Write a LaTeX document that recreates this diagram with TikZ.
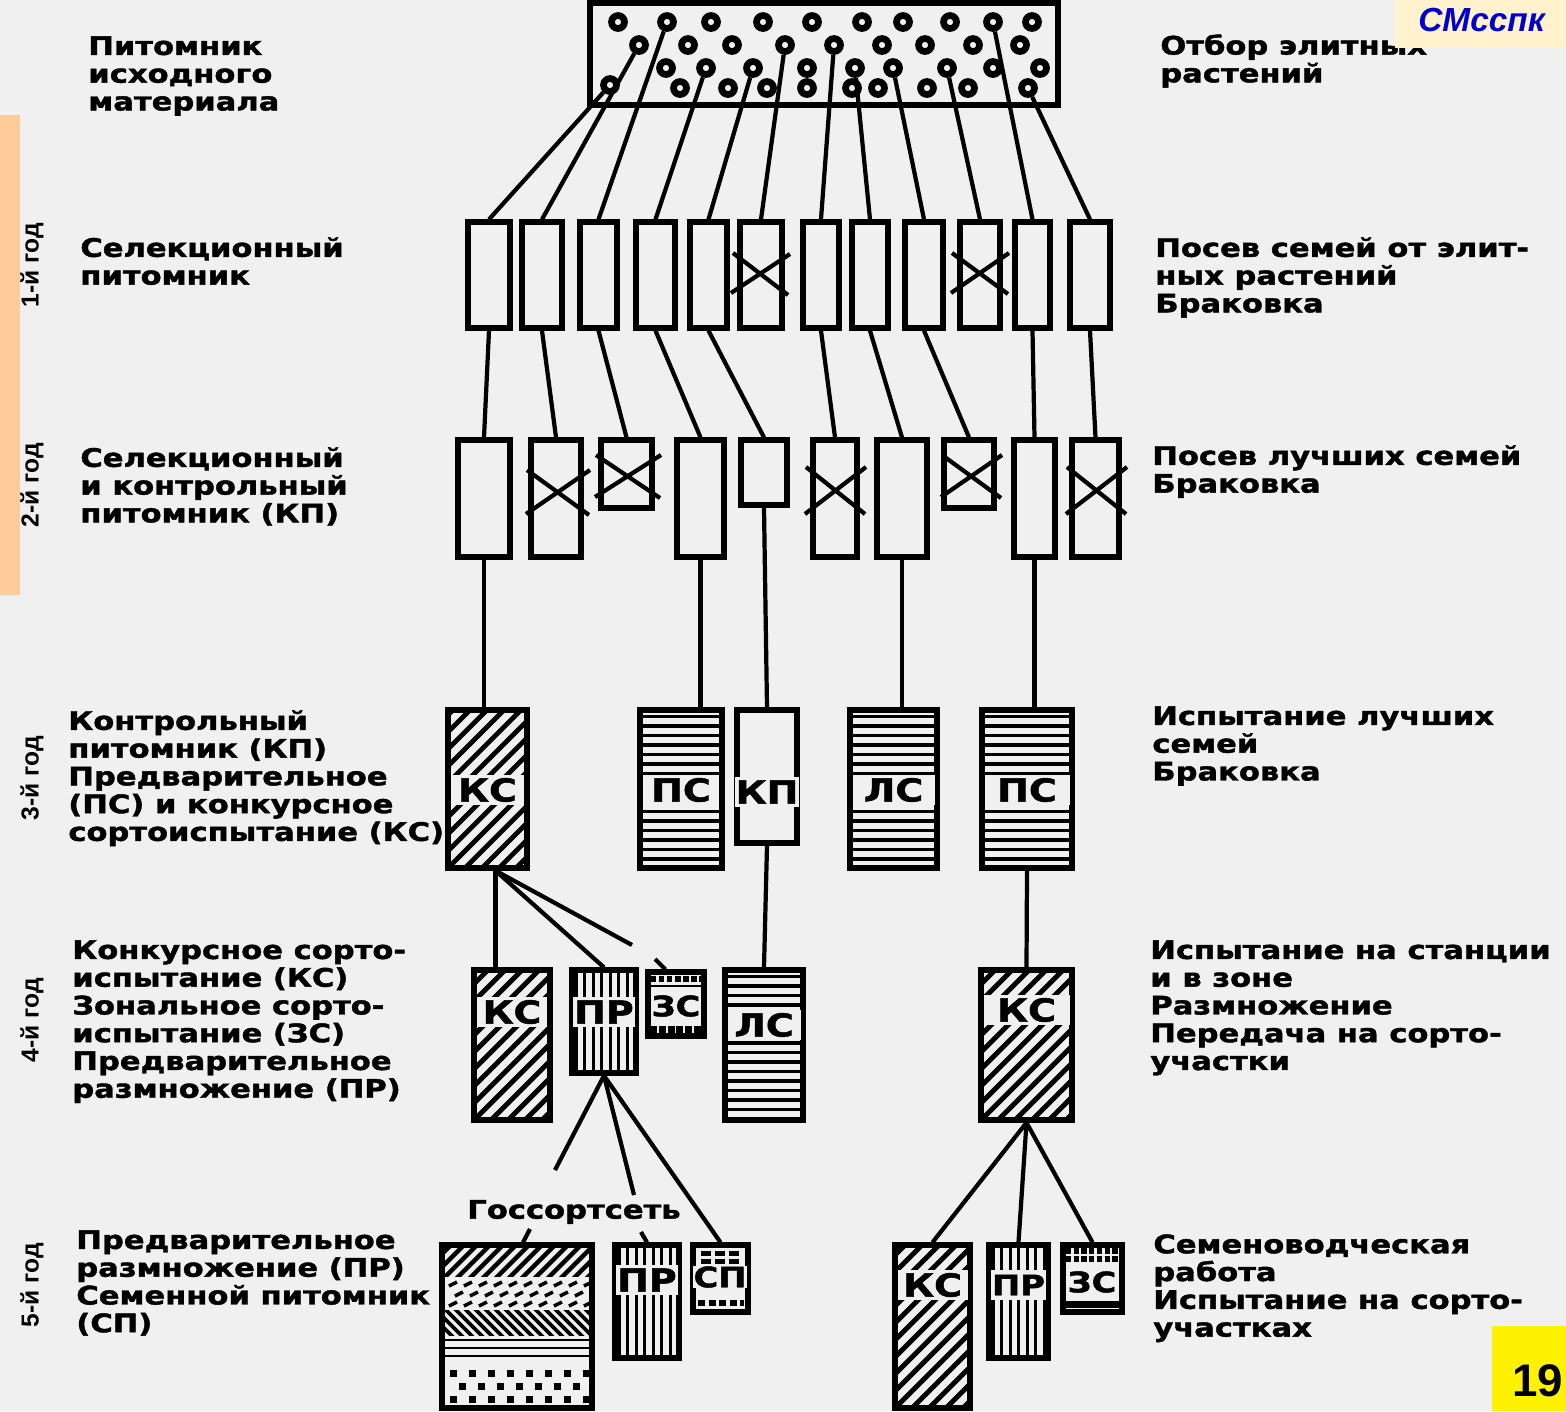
\documentclass[tikz,border=0pt]{standalone}
\usepackage{fontspec}
\usetikzlibrary{calc}
\newfontfamily\lblfont[FakeStretch=1.2, BoldFeatures={FakeBold=1.6}]{DejaVu Sans}
\newfontfamily\arialfont{Liberation Sans}
\definecolor{bg}{HTML}{F0F0F0}
\definecolor{peach}{HTML}{FFCC99}
\definecolor{cream}{HTML}{FFF2CC}
\definecolor{ttlblue}{HTML}{0000CC}
\tikzset{
 bx/.style={draw, line width=3pt, rectangle, inner sep=0pt},
 ring/.style={draw, circle, line width=3.8pt, minimum size=0.26cm, inner sep=0pt},
 conn/.style={line width=2.4pt},
 xmark/.style={line width=2.4pt},
 lab/.style={fill=bg, inner sep=0.6pt, minimum height=0.6cm, font=\lblfont\bfseries\fontsize{18}{20}\selectfont},
 slab/.style={fill=bg, inner sep=0.4pt, font=\lblfont\bfseries\fontsize{16}{18}\selectfont},
 txt/.style={anchor=north west, align=left, inner sep=0pt, font=\lblfont\bfseries\fontsize{14.5}{15.8}\selectfont},
 yr/.style={rotate=90, inner sep=0pt, font=\arialfont\bfseries\fontsize{14}{16}\selectfont},
}
\newcommand\mkbox[5]{\node[bx, minimum width={(#4-#2)*0.02cm}, minimum height={(#5-#3)*0.02cm}] (#1) at ({(#2+#4)/2},{(#3+#5)/2}) {};}
\newcommand\hatchdiag[3]{\begin{scope}\clip (#1.south west) rectangle (#1.north east);
 \foreach \k in {-12,...,12} \draw[line width=#3] ($(#1.south west)+(\k*#2,0)$) -- ++(220,-220);
 \end{scope}}
\newcommand\hatchh[4]{\begin{scope}\clip (#1.south west) rectangle (#1.north east);
 \foreach \k in {0,...,#4} \draw[line width=1.9pt] ($(#1.north west)+(0,#2+\k*#3)$) -- ++(200,0);
 \end{scope}}
\newcommand\hatchv[4]{\begin{scope}\clip (#1.south west) rectangle (#1.north east);
 \foreach \k in {0,...,#4} \draw[line width=1.7pt] ($(#1.north west)+(#2+\k*#3,0)$) -- ++(0,200);
 \end{scope}}
\begin{document}
\begin{tikzpicture}[x=0.02cm,y=-0.02cm]
\fill[bg] (0,0) rectangle (1566,1411);
\useasboundingbox (0,0) rectangle (1566,1411);
\fill[peach] (0,115) rectangle (20,595);

% ---------- source nursery ----------
\node[bx, minimum width={468*0.02cm}, minimum height={102*0.02cm}] (src) at (824,54) {};
\foreach \x [count=\i] in {618,667,711,763,812,862,903,950,993,1032} \node[ring] (c1-\i) at (\x,22) {};
\foreach \x [count=\i] in {639,688,732,785,834,882,925,973,1020} \node[ring] (c2-\i) at (\x,45) {};
\foreach \x [count=\i] in {666,706,753,807,855,893,947,993,1040} \node[ring] (c3-\i) at (\x,68) {};
\node[ring] (c4-1) at (610,85) {};
\foreach \x [count=\i from 2] in {680,728,767,807,852,878,927,968,1028} \node[ring] (c4-\i) at (\x,88) {};

% ---------- year 1 ----------
\mkbox{a1}{468}{222}{510}{328}
\mkbox{a2}{522}{222}{562}{328}
\mkbox{a3}{580}{222}{617}{328}
\mkbox{a4}{636}{222}{675}{328}
\mkbox{a5}{690}{222}{727}{328}
\mkbox{a6}{740}{222}{782}{328}
\mkbox{a7}{803}{222}{839}{328}
\mkbox{a8}{852}{222}{888}{328}
\mkbox{a9}{905}{222}{943}{328}
\mkbox{a10}{960}{222}{1000}{328}
\mkbox{a11}{1015}{222}{1050}{328}
\mkbox{a12}{1070}{222}{1110}{328}
\draw[xmark] (731,293) -- (790,254) (733,253) -- (788,295);
\draw[xmark] (951,293) -- (1009,253) (952,253) -- (1008,294);

\draw[conn] (c4-1) -- (a1.north);
\draw[conn] (c2-1) -- (a2.north);
\draw[conn] (c1-2) -- (a3.north);
\draw[conn] (c3-2) -- (a4.north);
\draw[conn] (c3-3) -- (a5.north);
\draw[conn] (c2-4) -- (a6.north);
\draw[conn] (c2-5) -- (a7.north);
\draw[conn] (c3-5) -- (a8.north);
\draw[conn] (c3-6) -- (a9.north);
\draw[conn] (c3-7) -- (a10.north);
\draw[conn] (c1-9) -- (a11.north);
\draw[conn] (c4-10) -- (a12.north);

% ---------- year 2 ----------
\mkbox{b1}{458}{440}{510}{557}
\mkbox{b2}{531}{440}{581}{557}
\mkbox{b3}{601}{440}{652}{508}
\mkbox{b4}{677}{440}{724}{557}
\mkbox{b5}{741}{440}{787}{505}
\mkbox{b6}{813}{440}{857}{557}
\mkbox{b7}{877}{440}{927}{557}
\mkbox{b8}{944}{440}{994}{508}
\mkbox{b9}{1014}{440}{1055}{557}
\mkbox{b10}{1072}{440}{1119}{557}
\draw[xmark] (526,514) -- (590,470) (527,470) -- (589,515);
\draw[xmark] (595,497) -- (661,455) (596,455) -- (660,498);
\draw[xmark] (805,514) -- (866,467) (806,467) -- (865,514);
\draw[xmark] (941,497) -- (1002,455) (942,455) -- (1001,498);
\draw[xmark] (1066,514) -- (1127,467) (1067,467) -- (1126,514);

\draw[conn] (a1.south) -- (b1.north);
\draw[conn] (a2.south) -- (b2.north);
\draw[conn] (a3.south) -- (b3.north);
\draw[conn] (a4.south) -- (b4.north);
\draw[conn] (a5.south) -- (b5.north);
\draw[conn] (a7.south) -- (b6.north);
\draw[conn] (a8.south) -- (b7.north);
\draw[conn] (a9.south) -- (b8.north);
\draw[conn] (a11.south) -- (b9.north);
\draw[conn] (a12.south) -- (b10.north);

% ---------- year 3 ----------
\mkbox{kc1}{448}{710}{527}{868}
\mkbox{ps1}{640}{710}{722}{868}
\mkbox{kp}{737}{710}{797}{843}
\mkbox{ls}{850}{710}{937}{868}
\mkbox{ps2}{982}{710}{1072}{868}
\hatchdiag{kc1}{17}{2.8pt}
\hatchh{ps1}{9}{9.5}{16}
\hatchh{ls}{9}{9.5}{16}
\hatchh{ps2}{9}{9.5}{16}
\node[lab, minimum width=1.48cm] (l-kc1) at (487.5,790) {КС};
\node[lab, minimum width=1.54cm] (l-ps1) at (681,790) {ПС};
\node[lab] (l-kp) at (767,792) {КП};
\node[lab, minimum width=1.64cm] (l-ls) at (893.5,790) {ЛС};
\node[lab, minimum width=1.70cm] (l-ps2) at (1027,790) {ПС};

\draw[conn] (b1.south) -- (b1.south |- kc1.north);
\draw[conn] (b4.south) -- (b4.south |- ps1.north);
\draw[conn] (b5.south) -- (kp.north);
\draw[conn] (b7.south) -- (b7.south |- ls.north);
\draw[conn] (b9.south) -- (b9.south |- ps2.north);

% ---------- year 4 ----------
\mkbox{kc2}{474}{970}{550}{1120}
\mkbox{pr}{572}{970}{636}{1073}
\mkbox{zs}{648}{972}{704}{1036}
\mkbox{ls2}{725}{970}{803}{1120}
\mkbox{kc3}{981}{970}{1072}{1120}
\hatchdiag{kc2}{17}{2.8pt}
\hatchdiag{kc3}{17}{2.8pt}
\hatchv{pr}{7}{8.5}{7}
\hatchh{ls2}{9}{9.5}{16}
\draw[line width=3pt, dash pattern=on 3pt off 1.6pt] (651,979) -- (702,979);
\draw[line width=1.2pt] (650,986) -- (702,986);
\draw[line width=4pt, dash pattern=on 4pt off 1pt] (650,1029) -- (702,1029);
\node[lab, minimum width=1.42cm] (l-kc2) at (512,1012) {КС};
\node[lab, minimum width=1.18cm] (l-pr) at (604,1012) {ПР};
\node[slab] (l-zs) at (676,1006) {ЗС};
\node[lab, minimum width=1.46cm] (l-ls2) at (764,1025) {ЛС};
\node[lab, minimum width=1.72cm] (l-kc3) at (1026.5,1010) {КС};

\coordinate (k1b) at ($(kc1.south)+(8,0)$);
\coordinate (zsgap) at (632,945);
\coordinate (zsstub) at (655,959);
\draw[conn] (k1b) -- (k1b |- kc2.north);
\draw[conn] (k1b) -- (pr.north);
\draw[conn] (k1b) -- (zsgap);
\draw[conn] (zsstub) -- ($(zs.north west)+(20,0)$);
\draw[conn] (kp.south) -- (ls2.north);
\draw[conn] (ps2.south) -- (kc3.north);

% ---------- year 5 ----------
\mkbox{gs}{442}{1245}{592}{1408}
\mkbox{pr2}{615}{1245}{679}{1358}
\mkbox{sp}{693}{1245}{748}{1312}
\mkbox{kc4}{895}{1245}{970}{1408}
\mkbox{pr3}{989}{1245}{1048}{1358}
\mkbox{zs2}{1063}{1245}{1122}{1312}
\begin{scope}
 \clip (442,1245) rectangle (592,1276);
 \foreach \k in {-3,...,13} \draw[line width=2.5pt] (442+\k*13,1280) -- ++(40,-40);
\end{scope}
\begin{scope}
 \clip (442,1276) rectangle (592,1310);
 \foreach \r/\o in {0/0,1/6,2/0} \foreach \k in {0,...,9} \draw[line width=2pt] (449+\k*15+\o,1286+\r*10) -- ++(8,-4);
\end{scope}
\begin{scope}
 \clip (442,1310) rectangle (592,1335);
 \foreach \k in {-4,...,16} \draw[line width=2.2pt] (442+\k*10,1306) -- ++(32,32);
\end{scope}
\foreach \yy in {1340,1348,1356} \draw[line width=1.5pt] (444,\yy) -- (590,\yy);
\begin{scope}
 \clip (442,1362) rectangle (592,1408);
 \foreach \r/\o in {0/0,1/9,2/0} \foreach \k in {0,...,7} \fill (450+\k*19+\o,1370+\r*13) rectangle ++(7,7);
\end{scope}
\hatchv{pr2}{7}{8.5}{7}
\hatchv{pr3}{7}{8.5}{7}
\hatchdiag{kc4}{17}{2.8pt}
\foreach \r in {0,1} \foreach \k in {0,1,2} \fill (701+\k*14,1251+\r*8) rectangle ++(10,5);
\draw[line width=3pt, dash pattern=on 4pt off 2pt] (698,1303) -- (744,1303);
\draw[line width=3pt, dash pattern=on 3pt off 1.4pt] (1066,1251) -- (1119,1251);
\draw[line width=3pt, dash pattern=on 3pt off 1.4pt] (1066,1259) -- (1119,1259);
\draw[line width=4pt] (1066,1304) -- (1119,1304);
\node[lab, minimum width=1.18cm] (l-pr2) at (647,1280) {ПР};
\node[slab] (l-sp) at (720,1277) {СП};
\node[lab, minimum width=1.40cm] (l-kc4) at (932.5,1285) {КС};
\node[slab, minimum width=1.08cm, minimum height=0.6cm] (l-pr3) at (1018.5,1285) {ПР};
\node[slab] (l-zs2) at (1092,1282) {ЗС};

\node[txt, anchor=center] (gstxt) at (574,1212) {Госсортсеть};
\coordinate (gsgap) at (555,1170);
\coordinate (gsstub) at (530,1229);
\coordinate (prgap) at (634,1195);
\coordinate (prstub) at (641,1232);
\draw[conn] (pr.south) -- (gsgap);
\draw[conn] (gsstub) -- ($(gs.north)+(6,0)$);
\draw[conn] (pr.south) -- (prgap);
\draw[conn] (prstub) -- (pr2.north);
\draw[conn] (pr.south) -- (sp.north);
\draw[conn] (kc3.south) -- (kc4.north);
\draw[conn] (kc3.south) -- (pr3.north);
\draw[conn] (kc3.south) -- (zs2.north);

% ---------- year labels ----------
\node[yr] (y1) at (32,265) {1-й год};
\node[yr] (y2) at (32,485) {2-й год};
\node[yr] (y3) at (32,778) {3-й год};
\node[yr] (y4) at (32,1020) {4-й год};
\node[yr] (y5) at (32,1285) {5-й год};

% ---------- left texts ----------
\node[txt] (tl1) at (88,36) {Питомник\\исходного\\материала};
\node[txt] (tl2) at (80,237) {Селекционный\\питомник};
\node[txt] (tl3) at (80,447) {Селекционный\\и контрольный\\питомник (КП)};
\node[txt] (tl4) at (68,710) {Контрольный\\питомник (КП)\\Предварительное\\(ПС) и конкурсное\\сортоиспытание (КС)};
\node[txt] (tl5) at (72,940) {Конкурсное сорто-\\испытание (КС)\\Зональное сорто-\\испытание (ЗС)\\Предварительное\\размножение (ПР)};
\node[txt] (tl6) at (76,1230) {Предварительное\\размножение (ПР)\\Семенной питомник\\(СП)};

% ---------- right texts ----------
\node[txt] (tr1) at (1160,34) {Отбор элитных\\растений};
\node[txt] (tr2) at (1155,237) {Посев семей от элит-\\ных растений\\Браковка};
\node[txt] (tr3) at (1152,445) {Посев лучших семей\\Браковка};
\node[txt] (tr4) at (1152,706) {Испытание лучших\\семей\\Браковка};
\node[txt] (tr5) at (1150,940) {Испытание на станции\\и в зоне\\Размножение\\Передача на сорто-\\участки};
\node[txt] (tr6) at (1153,1234) {Семеноводческая\\работа\\Испытание на сорто-\\участках};

% ---------- corner boxes ----------
\begin{scope}
 \clip (0,0) rectangle (1566,1411);
 \fill[cream] (1395,0) rectangle (1566,48);
 \node[anchor=west, inner sep=0pt, text=ttlblue, font=\arialfont\bfseries\itshape\fontsize{19}{21}\selectfont] (smt) at (1418,20) {СМсспк};
 \fill[yellow] (1492,1326) rectangle (1566,1411);
 \node[anchor=base west, inner sep=0pt, font=\arialfont\bfseries\fontsize{26}{28}\selectfont] (pg) at (1512,1396) {19};
\end{scope}
\end{tikzpicture}
\end{document}
